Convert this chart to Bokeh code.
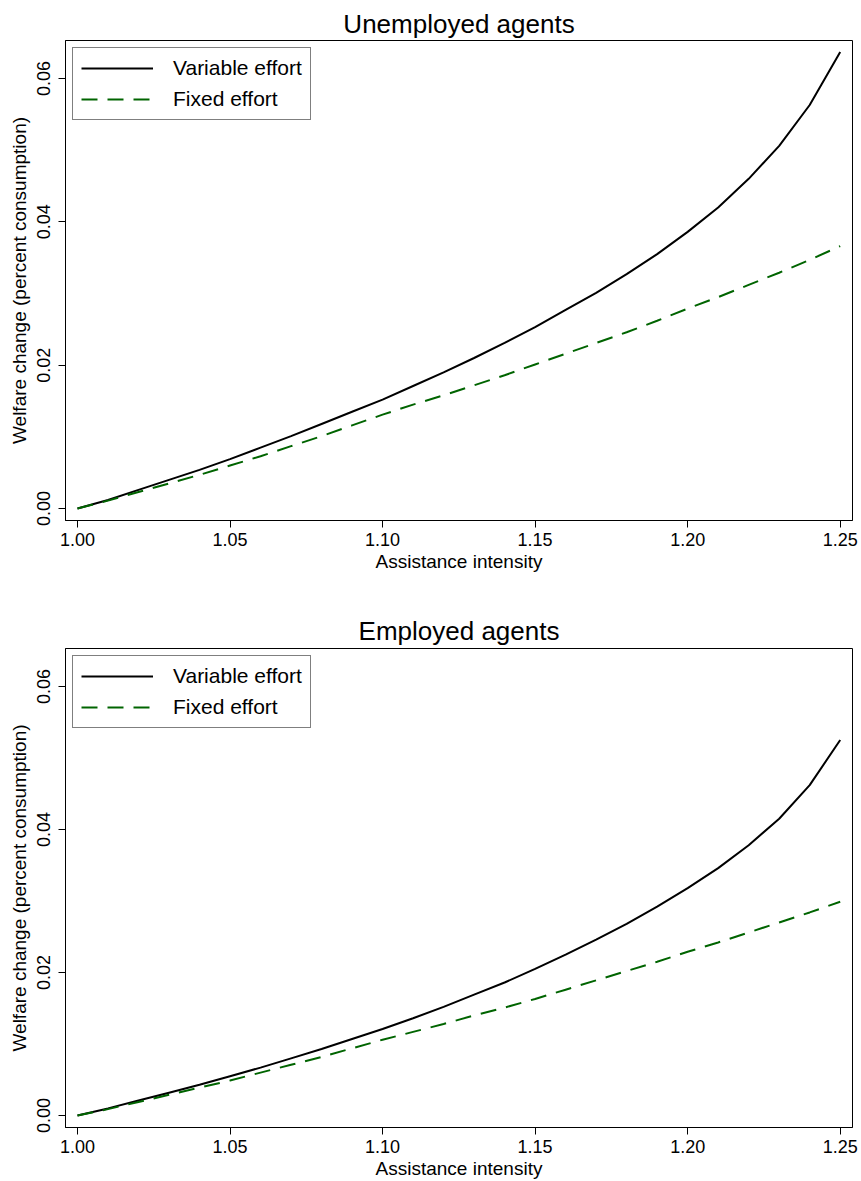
from bokeh.plotting import figure
from bokeh.layouts import column
from bokeh.models import Range1d, FixedTicker, NumeralTickFormatter, Legend, LegendItem
from bokeh.embed import file_html
from bokeh.resources import INLINE

# ---- data ----
intensity = [1.00, 1.01, 1.02, 1.03, 1.04, 1.05, 1.06, 1.07, 1.08, 1.09,
             1.10, 1.11, 1.12, 1.13, 1.14, 1.15, 1.16, 1.17, 1.18, 1.19,
             1.20, 1.21, 1.22, 1.23, 1.24, 1.25]

unemp_variable = [0.0, 0.0012, 0.0026, 0.0040, 0.0054, 0.0069, 0.0085, 0.0101, 0.0118, 0.0135,
                  0.0152, 0.0171, 0.0190, 0.0210, 0.0231, 0.0253, 0.0277, 0.0301, 0.0327, 0.0355,
                  0.0386, 0.0420, 0.0460, 0.0506, 0.0563, 0.0637]
unemp_fixed = [0.0, 0.0011, 0.0023, 0.0035, 0.0047, 0.0060, 0.0073, 0.0087, 0.0101, 0.0116,
               0.0131, 0.0145, 0.0158, 0.0172, 0.0186, 0.0201, 0.0216, 0.0231, 0.0246, 0.0262,
               0.0279, 0.0295, 0.0312, 0.0329, 0.0347, 0.0366]

emp_variable = [0.0, 0.0010, 0.0021, 0.0032, 0.0043, 0.0055, 0.0067, 0.0080, 0.0093, 0.0107,
                0.0121, 0.0136, 0.0152, 0.0169, 0.0186, 0.0205, 0.0225, 0.0246, 0.0268, 0.0292,
                0.0318, 0.0346, 0.0378, 0.0415, 0.0462, 0.0525]
emp_fixed = [0.0, 0.0009, 0.0019, 0.0029, 0.0039, 0.0049, 0.0060, 0.0071, 0.0082, 0.0094,
             0.0106, 0.0117, 0.0128, 0.0140, 0.0151, 0.0163, 0.0176, 0.0189, 0.0202, 0.0215,
             0.0229, 0.0242, 0.0256, 0.0270, 0.0284, 0.0299]

x_ticks = [1.00, 1.05, 1.10, 1.15, 1.20, 1.25]
y_ticks = [0.00, 0.02, 0.04, 0.06]
series_names = ["Variable effort", "Fixed effort"]
titles = ["Unemployed agents", "Employed agents"]
x_label = "Assistance intensity"
y_label = "Welfare change (percent consumption)"

FONT = "Liberation Sans"


def make_panel(title, var, fix, height, top, bottom, title_standoff):
    p = figure(width=861, height=height, output_backend="svg", toolbar_location=None,
               x_range=Range1d(0.99607, 1.25403), y_range=Range1d(-0.00167, 0.0653),
               min_border_left=65, min_border_right=9, min_border_top=top,
               min_border_bottom=bottom)
    p.title.text = title
    p.title.align = "center"
    p.title.text_font = FONT
    p.title.text_font_style = "normal"
    p.title.text_font_size = "26px"
    p.title.text_color = "black"
    p.title.standoff = title_standoff
    p.grid.visible = False
    p.outline_line_color = "black"
    p.outline_line_width = 1
    p.background_fill_color = "white"
    p.border_fill_color = "white"

    for ax in (p.xaxis[0], p.yaxis[0]):
        ax.axis_line_color = "black"
        ax.major_tick_line_color = "black"
        ax.major_tick_out = 7
        ax.major_tick_in = 0
        ax.minor_tick_line_color = None
        ax.major_label_text_font = FONT
        ax.major_label_text_font_size = "18px"
        ax.major_label_text_color = "black"
        ax.axis_label_text_font = FONT
        ax.axis_label_text_font_size = "19px"
        ax.axis_label_text_font_style = "normal"
        ax.axis_label_text_color = "black"
        ax.formatter = NumeralTickFormatter(format="0.00")

    p.xaxis.ticker = FixedTicker(ticks=x_ticks)
    p.yaxis.ticker = FixedTicker(ticks=y_ticks)
    p.xaxis.axis_label = x_label
    p.yaxis.axis_label = y_label
    p.xaxis.major_label_standoff = 5
    p.xaxis.axis_label_standoff = 2
    p.yaxis.major_label_standoff = 8
    p.yaxis.axis_label_standoff = 5
    p.yaxis.major_label_orientation = "vertical"

    r1 = p.line(intensity, var, line_color="black", line_width=2)
    r2 = p.line(intensity, fix, line_color="#006400", line_width=2, line_dash="16 10")

    legend = Legend(items=[LegendItem(label=series_names[0], renderers=[r1]),
                           LegendItem(label=series_names[1], renderers=[r2])],
                    location="top_left")
    legend.margin = 7
    legend.padding = 8
    legend.spacing = 7
    legend.glyph_width = 72
    legend.glyph_height = 24
    legend.label_height = 24
    legend.label_standoff = 20
    legend.label_text_font = FONT
    legend.label_text_font_size = "21px"
    legend.label_text_color = "black"
    legend.border_line_color = "black"
    legend.border_line_width = 1
    legend.background_fill_alpha = 1.0
    p.add_layout(legend)
    return p


p1 = make_panel(titles[0], unemp_variable, unemp_fixed, 590, 40, 70, 3)
p2 = make_panel(titles[1], emp_variable, emp_fixed, 591, 58, 53, 6)

layout = column(p1, p2, spacing=0)
open("out.html", "w").write(file_html(layout, INLINE))
